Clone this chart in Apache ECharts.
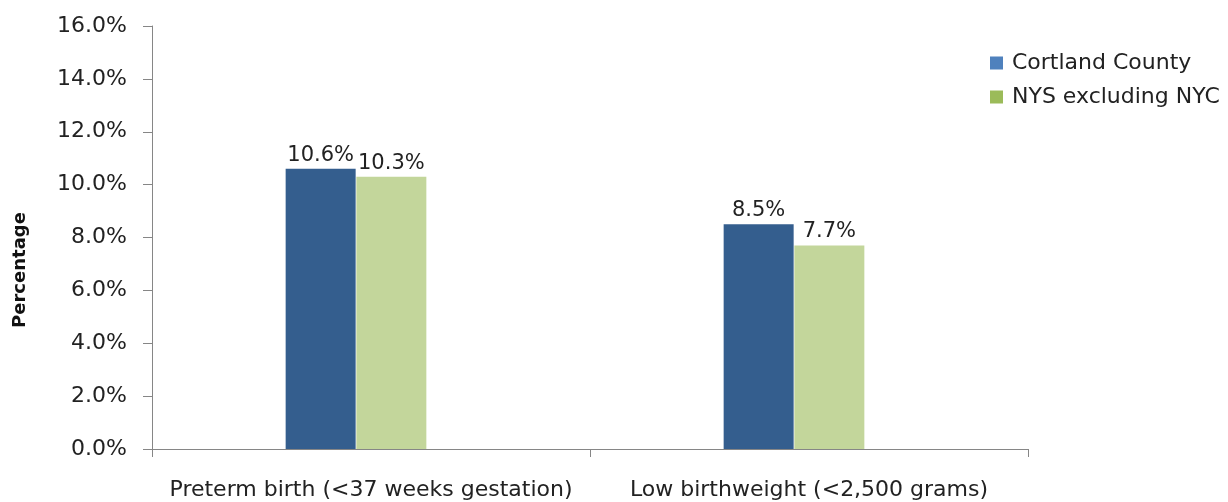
<!DOCTYPE html>
<html><head><meta charset="utf-8">
<script src="https://cdn.jsdelivr.net/npm/echarts@6/dist/echarts.min.js"></script>
<style>html,body{margin:0;padding:0;background:#fff}#c{width:1228px;height:502px}</style>
</head><body><div id="c"></div>
<script>
const categories = ['Preterm birth (<37 weeks gestation)', 'Low birthweight (<2,500 grams)'];
const seriesNames = ['Cortland County', 'NYS excluding NYC'];
const cortland = [10.6, 8.5];
const nysExNyc = [10.3, 7.7];
const yTicks = [0, 2, 4, 6, 8, 10, 12, 14, 16];
const yTitle = 'Percentage';

const font = '"DejaVu Sans", "Noto Sans", sans-serif';
const yMin = yTicks[0], yMax = yTicks[yTicks.length - 1];
const chart = echarts.init(document.getElementById('c'), null, {renderer: 'canvas'});
chart.setOption({
  animation: false,
  grid: [
    {left: 152, right: 200, top: 26, bottom: 53, containLabel: false, outerBoundsMode: 'none'},
    {left: 137, right: 215, top: 26, bottom: 53, containLabel: false, outerBoundsMode: 'none'}
  ],
  graphic: [{
    type: 'text', x: 20, y: 270, rotation: Math.PI / 2,
    style: {text: yTitle, fontFamily: font, fontSize: 18, fontWeight: 'bold', fill: '#111',
      align: 'center', verticalAlign: 'middle'},
    originX: 0, originY: 0
  }],
  legend: {
    orient: 'vertical', left: 985, top: 47, itemWidth: 13, itemHeight: 13, itemGap: 12,
    textStyle: {fontFamily: font, fontSize: 22, color: '#222', padding: [0, 0, 0, 4]},
    data: [
      {name: seriesNames[0], icon: 'rect', itemStyle: {color: '#4F81BD'}},
      {name: seriesNames[1], icon: 'rect', itemStyle: {color: '#9BBB59'}}
    ]
  },
  xAxis: [{
    gridIndex: 0, type: 'category', data: categories,
    axisLine: {lineStyle: {color: '#868686'}},
    axisTick: {show: true, length: 8, interval: 0, lineStyle: {color: '#868686'}},
    axisLabel: {fontFamily: font, fontSize: 22, color: '#222', margin: 30, interval: 0, hideOverlap: false}
  }, {
    gridIndex: 1, type: 'category', data: categories, show: false
  }],
  yAxis: [{
    gridIndex: 0, type: 'value', min: yMin, max: yMax, interval: 2,
    axisLine: {show: true, lineStyle: {color: '#868686'}},
    axisTick: {show: true, length: 9, lineStyle: {color: '#868686'}},
    splitLine: {show: false},
    axisLabel: {fontFamily: font, fontSize: 22, color: '#222', margin: 25,
      formatter: v => v.toFixed(1) + '%'}
  }, {
    gridIndex: 1, type: 'value', min: yMin, max: yMax, interval: 2, show: false,
    splitLine: {show: false}
  }],
  series: [
    {name: seriesNames[0], type: 'bar', xAxisIndex: 1, yAxisIndex: 1, data: cortland, barWidth: 70, barGap: '1%',
      itemStyle: {color: '#345E8E'},
      label: {show: true, position: 'top', distance: 3, fontFamily: font, fontSize: 21, color: '#222',
        formatter: p => p.value.toFixed(1) + '%'}},
    {name: seriesNames[1], type: 'bar', xAxisIndex: 1, yAxisIndex: 1, data: nysExNyc, barWidth: 70,
      itemStyle: {color: '#C3D69B'},
      label: {show: true, position: 'top', distance: 3, fontFamily: font, fontSize: 21, color: '#222',
        formatter: p => p.value.toFixed(1) + '%'}}
  ]
});
</script></body></html>
